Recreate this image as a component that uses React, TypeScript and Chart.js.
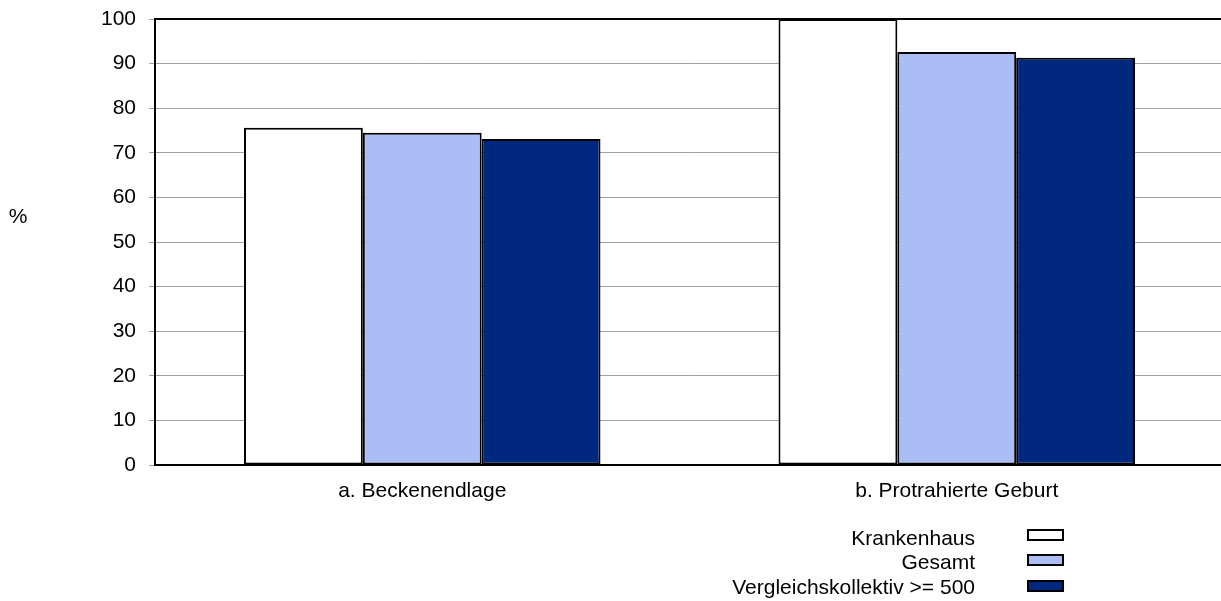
import React, { useEffect, useRef } from 'react';
import { Chart, registerables } from 'chart.js';

Chart.register(...registerables);

const categories: string[] = ['a. Beckenendlage', 'b. Protrahierte Geburt'];
const seriesNames: string[] = ['Krankenhaus', 'Gesamt', 'Vergleichskollektiv >= 500'];
const krankenhausValues: number[] = [75.6, 100];
const gesamtValues: number[] = [74.5, 92.6];
const vergleichValues: number[] = [73.1, 91.3];
const yMin = 0;
const yMax = 100;
const yStep = 10;
const yUnitLabel = '%';

const FONT = "'Liberation Sans', Arial, sans-serif";
const FONT_SIZE = 21;
const fillColors = ['#FFFFFF', '#AABEF5', '#00287F'];

const framePlugin = {
  id: 'frame',
  afterDatasetsDraw(chart: any) {
    const { ctx, chartArea } = chart;
    ctx.save();
    ctx.strokeStyle = '#000';
    ctx.lineWidth = 2;
    ctx.beginPath();
    ctx.moveTo(chartArea.right, chartArea.top);
    ctx.lineTo(chartArea.left, chartArea.top);
    ctx.lineTo(chartArea.left, chartArea.bottom);
    ctx.lineTo(chartArea.right, chartArea.bottom);
    ctx.lineTo(chartArea.right, chartArea.top);
    ctx.stroke();
    ctx.restore();
  },
};

const extrasPlugin = {
  id: 'extras',
  afterDraw(chart: any) {
    const { ctx } = chart;
    ctx.save();
    ctx.font = `${FONT_SIZE}px ${FONT}`;
    ctx.fillStyle = '#000';
    // unit label
    ctx.textAlign = 'center';
    ctx.textBaseline = 'middle';
    ctx.fillText(yUnitLabel, 18, 217);
    // legend
    const textRight = 975;
    const baselines = [545, 569, 594];
    const boxTops = [530, 555, 581];
    ctx.textAlign = 'right';
    ctx.textBaseline = 'alphabetic';
    chart.data.datasets.forEach((ds: any, i: number) => {
      ctx.fillStyle = '#000';
      ctx.fillText(ds.label, textRight, baselines[i]);
      ctx.fillStyle = ds.backgroundColor;
      ctx.fillRect(1028, boxTops[i], 35, 10);
      ctx.strokeStyle = '#000';
      ctx.lineWidth = 2;
      ctx.strokeRect(1028, boxTops[i], 35, 10);
    });
    ctx.restore();
  },
};

export default function App() {
  const canvasRef = useRef<HTMLCanvasElement | null>(null);

  useEffect(() => {
    const canvas = canvasRef.current;
    if (!canvas) return;
    const seriesValues = [krankenhausValues, gesamtValues, vergleichValues];
    const chart = new Chart(canvas, {
      type: 'bar',
      data: {
        labels: categories,
        datasets: seriesNames.map((name, i) => ({
          label: name,
          data: seriesValues[i],
          backgroundColor: fillColors[i],
          borderColor: '#000',
          borderWidth: 2,
          borderSkipped: false,
          categoryPercentage: 0.667,
          barPercentage: 1,
        })),
      },
      options: {
        animation: false,
        responsive: false,
        maintainAspectRatio: false,
        devicePixelRatio: 1,
        layout: { padding: { left: 0, right: 16, top: 19, bottom: 0 } },
        plugins: {
          legend: { display: false },
          tooltip: { enabled: false },
        },
        scales: {
          x: {
            grid: { display: false, drawTicks: false },
            border: { display: false },
            ticks: {
              color: '#000',
              font: { family: FONT, size: FONT_SIZE },
              padding: 14,
              maxRotation: 0,
            },
            afterFit(scale: any) {
              scale.height = 136;
              scale.paddingLeft = 0;
              scale.paddingRight = 0;
            },
          },
          y: {
            min: yMin,
            max: yMax,
            grid: { color: '#A0A0A0', lineWidth: 1, tickLength: 6, drawTicks: true },
            border: { display: false },
            ticks: {
              stepSize: yStep,
              color: '#000',
              font: { family: FONT, size: FONT_SIZE },
              padding: 13,
            },
            afterFit(scale: any) {
              scale.width = 155;
              scale.paddingTop = 0;
              scale.paddingBottom = 0;
            },
          },
        },
      },
      plugins: [framePlugin, extrasPlugin],
    });
    return () => chart.destroy();
  }, []);

  return (
    <div style={{ position: 'absolute', left: 0, top: 0, width: 1221, height: 601, overflow: 'hidden', background: '#fff' }}>
      <canvas ref={canvasRef} width={1240} height={601} style={{ width: 1240, height: 601, display: 'block' }} />
    </div>
  );
}
